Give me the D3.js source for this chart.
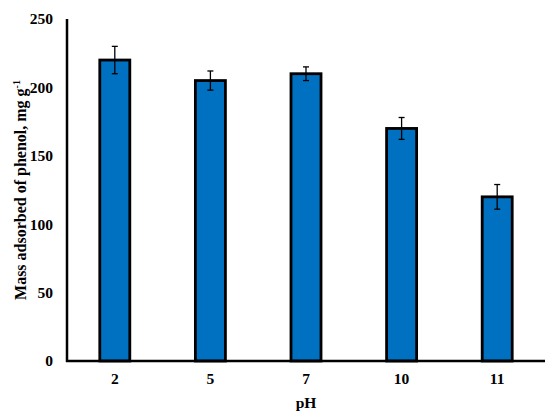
<!DOCTYPE html>
<html><head><meta charset="utf-8">
<script src="https://cdn.jsdelivr.net/npm/d3@7"></script>
<style>body{margin:0;background:#fff}svg{display:block}text{font-family:"Liberation Serif","Times New Roman",serif;font-weight:bold}</style>
</head><body>
<svg id="c" width="550" height="415"></svg>
<script>
const categories = ["2","5","7","10","11"];
const values = [220, 205, 210, 170, 120];
const errors = [10, 7, 5, 8, 9];
const yTicks = [0, 50, 100, 150, 200, 250];

const svg = d3.select("#c");
const m = {l:67, r:5, t:19, b:54};
const W = 550, H = 415;
const x = d3.scaleBand().domain(categories).range([m.l, W - m.r]).paddingInner(0.686).paddingOuter(0.343);
const y = d3.scaleLinear().domain([0, 250]).range([H - m.b, m.t]);

const g = svg.append("g");
g.selectAll("rect.bar").data(categories).join("rect")
  .attr("class","bar")
  .attr("x", d => x(d)).attr("width", x.bandwidth())
  .attr("y", (d,i) => y(values[i])).attr("height", (d,i) => y(0) - y(values[i]))
  .attr("fill", "#0070C0").attr("stroke", "#000").attr("stroke-width", 2.8);

// error bars
const eb = g.selectAll("g.err").data(categories).join("g").attr("class","err");
eb.append("line").attr("x1", d => x(d)+x.bandwidth()/2).attr("x2", d => x(d)+x.bandwidth()/2)
  .attr("y1", (d,i) => y(values[i]+errors[i])).attr("y2", (d,i) => y(values[i]-errors[i]))
  .attr("stroke","#000").attr("stroke-width",1.3);
[1,-1].forEach(s => {
  eb.append("line").attr("x1", d => x(d)+x.bandwidth()/2-3).attr("x2", d => x(d)+x.bandwidth()/2+3)
    .attr("y1", (d,i) => y(values[i]+s*errors[i])).attr("y2", (d,i) => y(values[i]+s*errors[i]))
    .attr("stroke","#000").attr("stroke-width",1.3);
});

// axes
const xa = svg.append("g").attr("transform", `translate(0,${y(0)})`)
  .call(d3.axisBottom(x).tickSize(0).tickPadding(12));
xa.select(".domain").attr("stroke","#000").attr("stroke-width",2.5).attr("d", `M${m.l-1},0H${W-m.r}`);
xa.selectAll("text").attr("font-size", 15.5).attr("fill","#000");

const ya = svg.append("g").attr("transform", `translate(${m.l},0)`)
  .call(d3.axisLeft(y).tickValues(yTicks).tickSize(0).tickPadding(14));
ya.select(".domain").attr("stroke","#000").attr("stroke-width",2.5).attr("d", `M0,${m.t}V${y(0)+1}`);
ya.selectAll("text").attr("font-size", 15.5).attr("fill","#000");

svg.append("text").attr("x", (m.l + W - m.r)/2).attr("y", 408)
  .attr("text-anchor","middle").attr("font-size",15.5).text("pH");

const yl = svg.append("text").attr("transform", `translate(26,${(m.t + y(0))/2}) rotate(-90)`)
  .attr("text-anchor","middle").attr("font-size",16);
yl.append("tspan").text("Mass adsorbed of phenol, mg g");
yl.append("tspan").attr("dy",-6).attr("font-size",10).text("-1");
</script>
</body></html>
